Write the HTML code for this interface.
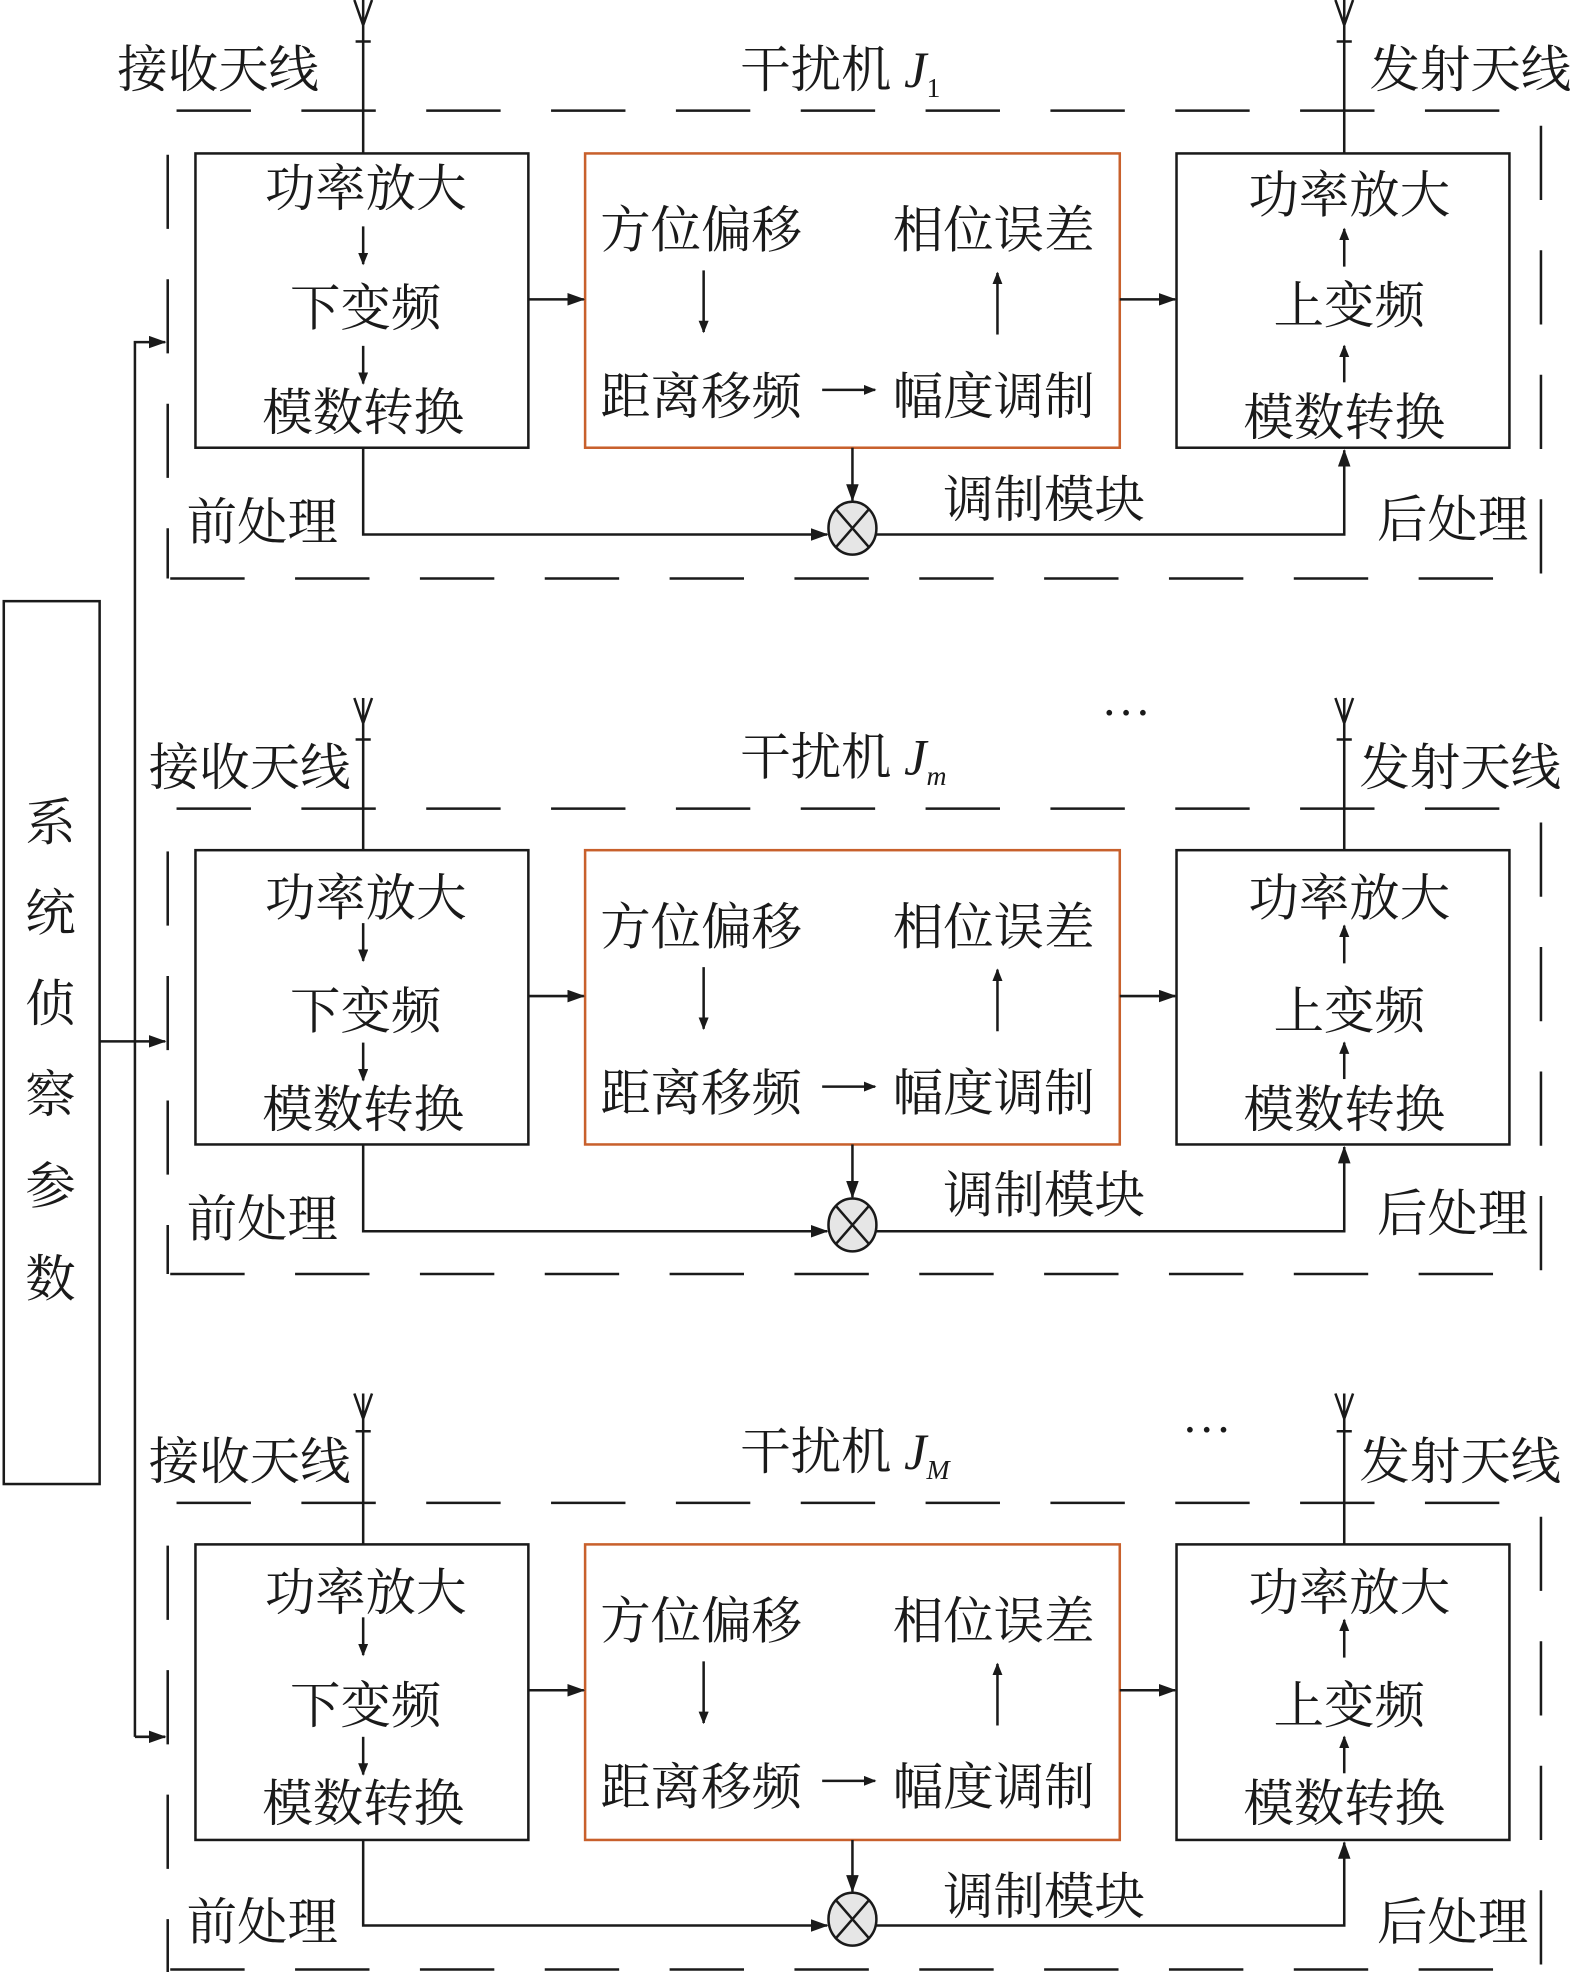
<!DOCTYPE html>
<html><head><meta charset="utf-8"><style>
html,body{margin:0;padding:0;background:#fff;}
svg{display:block;}
text{font-family:"Liberation Serif","Noto Serif CJK SC",serif;font-size:40px;fill:#1a1a1a;}
</style></head><body>
<svg width="1575" height="1972" viewBox="0 0 1249 1568" preserveAspectRatio="none" xmlns="http://www.w3.org/2000/svg">
<defs>
<marker id="a" markerWidth="10" markerHeight="8" refX="9" refY="4" orient="auto" markerUnits="userSpaceOnUse"><path d="M0,0 L10,4 L0,8 z" fill="#1a1a1a"/></marker>
<marker id="b" markerWidth="14" markerHeight="10" refX="13" refY="5" orient="auto" markerUnits="userSpaceOnUse"><path d="M0,0 L14,5 L0,10 z" fill="#1a1a1a"/></marker>
</defs>
<g stroke="#1a1a1a" stroke-width="2" fill="none">
<!-- side bar -->
<rect x="3" y="478" width="76" height="702"/>
<path d="M79,828 H131" marker-end="url(#b)"/>
<path d="M107,1381 V272 H131" marker-end="url(#b)"/>
<path d="M107,1381 H131" marker-end="url(#b)"/>
</g>
<g font-size="40">
<text x="40" y="668" text-anchor="middle">系</text>
<text x="40" y="740" text-anchor="middle">统</text>
<text x="40" y="812" text-anchor="middle">侦</text>
<text x="40" y="884" text-anchor="middle">察</text>
<text x="40" y="957" text-anchor="middle">参</text>
<text x="40" y="1031" text-anchor="middle">数</text>
</g>

<!-- PANEL 1 -->
<g transform="translate(0,0)">
<g stroke="#1a1a1a" stroke-width="2" fill="none">
<path d="M140,88 H1220" stroke-dasharray="59,40"/>
<path d="M135,460 H1190" stroke-dasharray="59,40"/>
<path d="M133,123 V460" stroke-dasharray="59,40"/>
<path d="M1222,100 V460" stroke-dasharray="59,40"/>
<path d="M288,0 V122 M281,0 L288,20 L295,0 M282,33 H294"/>
<path d="M1066,0 V122 M1059,0 L1066,20 L1073,0 M1060,33 H1072"/>
<rect x="155" y="122" width="264" height="234"/>
<rect x="933" y="122" width="264" height="234"/>
<rect x="464" y="122" width="424" height="234" stroke="#c8602c"/>
<path d="M288,180 V210" marker-end="url(#a)"/>
<path d="M288,275 V305" marker-end="url(#a)"/>
<path d="M558,215 V264" marker-end="url(#a)"/>
<path d="M791,266 V217" marker-end="url(#a)"/>
<path d="M652,310 H694" marker-end="url(#a)"/>
<path d="M1066,212 V182" marker-end="url(#a)"/>
<path d="M1066,304 V275" marker-end="url(#a)"/>
<path d="M419,238 H463" marker-end="url(#b)"/>
<path d="M888,238 H932" marker-end="url(#b)"/>
<path d="M288,356 V425 H656" marker-end="url(#b)"/>
<path d="M676,356 V398" marker-end="url(#b)"/>
<path d="M695,425 H1066 V358" marker-end="url(#b)"/>
<ellipse cx="676" cy="420" rx="19" ry="21" fill="#e6e6e6"/>
<path d="M663,405 L689,435 M689,405 L663,435"/>
</g>
<text x="173" y="69" text-anchor="middle">接收天线</text>
<text x="1166" y="69" text-anchor="middle">发射天线</text>
<text x="587" y="69">干扰机 <tspan font-style="italic">J</tspan><tspan font-size="22" dy="8">1</tspan></text>
<text x="290" y="164" text-anchor="middle">功率放大</text>
<text x="290" y="259" text-anchor="middle">下变频</text>
<text x="288" y="342" text-anchor="middle">模数转换</text>
<text x="556" y="197" text-anchor="middle">方位偏移</text>
<text x="788" y="197" text-anchor="middle">相位误差</text>
<text x="556" y="329" text-anchor="middle">距离移频</text>
<text x="788" y="329" text-anchor="middle">幅度调制</text>
<text x="1070" y="169" text-anchor="middle">功率放大</text>
<text x="1070" y="257" text-anchor="middle">上变频</text>
<text x="1066" y="346" text-anchor="middle">模数转换</text>
<text x="828" y="411" text-anchor="middle">调制模块</text>
<text x="208" y="429" text-anchor="middle">前处理</text>
<text x="1152" y="427" text-anchor="middle">后处理</text>
</g>

<!-- PANEL 2 -->
<g transform="translate(0,554)">
<g stroke="#1a1a1a" stroke-width="2" fill="none">
<path d="M140,89 H1220" stroke-dasharray="59,40"/>
<path d="M135,459 H1190" stroke-dasharray="59,40"/>
<path d="M133,123 V459" stroke-dasharray="59,40"/>
<path d="M1222,100 V459" stroke-dasharray="59,40"/>
<path d="M288,1 V122 M281,1 L288,21 L295,1 M282,34 H294"/>
<path d="M1066,1 V122 M1059,1 L1066,21 L1073,1 M1060,34 H1072"/>
<rect x="155" y="122" width="264" height="234"/>
<rect x="933" y="122" width="264" height="234"/>
<rect x="464" y="122" width="424" height="234" stroke="#c8602c"/>
<path d="M288,180 V210" marker-end="url(#a)"/>
<path d="M288,275 V305" marker-end="url(#a)"/>
<path d="M558,215 V264" marker-end="url(#a)"/>
<path d="M791,266 V217" marker-end="url(#a)"/>
<path d="M652,310 H694" marker-end="url(#a)"/>
<path d="M1066,212 V182" marker-end="url(#a)"/>
<path d="M1066,304 V275" marker-end="url(#a)"/>
<path d="M419,238 H463" marker-end="url(#b)"/>
<path d="M888,238 H932" marker-end="url(#b)"/>
<path d="M288,356 V425 H656" marker-end="url(#b)"/>
<path d="M676,356 V398" marker-end="url(#b)"/>
<path d="M695,425 H1066 V358" marker-end="url(#b)"/>
<ellipse cx="676" cy="420" rx="19" ry="21" fill="#e6e6e6"/>
<path d="M663,405 L689,435 M689,405 L663,435"/>
</g>
<text x="198" y="70" text-anchor="middle">接收天线</text>
<text x="1158" y="70" text-anchor="middle">发射天线</text>
<text x="893" y="28" text-anchor="middle">⋯</text>
<text x="587" y="62">干扰机 <tspan font-style="italic">J</tspan><tspan font-size="22" font-style="italic" dy="8">m</tspan></text>
<text x="290" y="174" text-anchor="middle">功率放大</text>
<text x="290" y="264" text-anchor="middle">下变频</text>
<text x="288" y="342" text-anchor="middle">模数转换</text>
<text x="556" y="197" text-anchor="middle">方位偏移</text>
<text x="788" y="197" text-anchor="middle">相位误差</text>
<text x="556" y="329" text-anchor="middle">距离移频</text>
<text x="788" y="329" text-anchor="middle">幅度调制</text>
<text x="1070" y="174" text-anchor="middle">功率放大</text>
<text x="1070" y="264" text-anchor="middle">上变频</text>
<text x="1066" y="342" text-anchor="middle">模数转换</text>
<text x="828" y="410" text-anchor="middle">调制模块</text>
<text x="208" y="429" text-anchor="middle">前处理</text>
<text x="1152" y="425" text-anchor="middle">后处理</text>
</g>

<!-- PANEL 3 -->
<g transform="translate(0,1106)">
<g stroke="#1a1a1a" stroke-width="2" fill="none">
<path d="M140,89 H1220" stroke-dasharray="59,40"/>
<path d="M135,460 H1190" stroke-dasharray="59,40"/>
<path d="M133,123 V462" stroke-dasharray="59,40"/>
<path d="M1222,100 V460" stroke-dasharray="59,40"/>
<path d="M288,2 V122 M281,2 L288,22 L295,2 M282,32 H294"/>
<path d="M1066,2 V122 M1059,2 L1066,22 L1073,2 M1060,32 H1072"/>
<rect x="155" y="122" width="264" height="235"/>
<rect x="933" y="122" width="264" height="235"/>
<rect x="464" y="122" width="424" height="235" stroke="#c8602c"/>
<path d="M288,180 V210" marker-end="url(#a)"/>
<path d="M288,275 V305" marker-end="url(#a)"/>
<path d="M558,215 V264" marker-end="url(#a)"/>
<path d="M791,266 V217" marker-end="url(#a)"/>
<path d="M652,310 H694" marker-end="url(#a)"/>
<path d="M1066,212 V182" marker-end="url(#a)"/>
<path d="M1066,304 V275" marker-end="url(#a)"/>
<path d="M419,238 H463" marker-end="url(#b)"/>
<path d="M888,238 H932" marker-end="url(#b)"/>
<path d="M288,357 V425 H656" marker-end="url(#b)"/>
<path d="M676,357 V398" marker-end="url(#b)"/>
<path d="M695,425 H1066 V359" marker-end="url(#b)"/>
<ellipse cx="676" cy="420" rx="19" ry="21" fill="#e6e6e6"/>
<path d="M663,405 L689,435 M689,405 L663,435"/>
</g>
<text x="198" y="70" text-anchor="middle">接收天线</text>
<text x="1158" y="70" text-anchor="middle">发射天线</text>
<text x="957" y="46" text-anchor="middle">⋯</text>
<text x="587" y="62">干扰机 <tspan font-style="italic">J</tspan><tspan font-size="22" font-style="italic" dy="8">M</tspan></text>
<text x="290" y="174" text-anchor="middle">功率放大</text>
<text x="290" y="264" text-anchor="middle">下变频</text>
<text x="288" y="342" text-anchor="middle">模数转换</text>
<text x="556" y="197" text-anchor="middle">方位偏移</text>
<text x="788" y="197" text-anchor="middle">相位误差</text>
<text x="556" y="329" text-anchor="middle">距离移频</text>
<text x="788" y="329" text-anchor="middle">幅度调制</text>
<text x="1070" y="174" text-anchor="middle">功率放大</text>
<text x="1070" y="264" text-anchor="middle">上变频</text>
<text x="1066" y="342" text-anchor="middle">模数转换</text>
<text x="828" y="416" text-anchor="middle">调制模块</text>
<text x="208" y="436" text-anchor="middle">前处理</text>
<text x="1152" y="436" text-anchor="middle">后处理</text>
</g>
</svg>
</body></html>
